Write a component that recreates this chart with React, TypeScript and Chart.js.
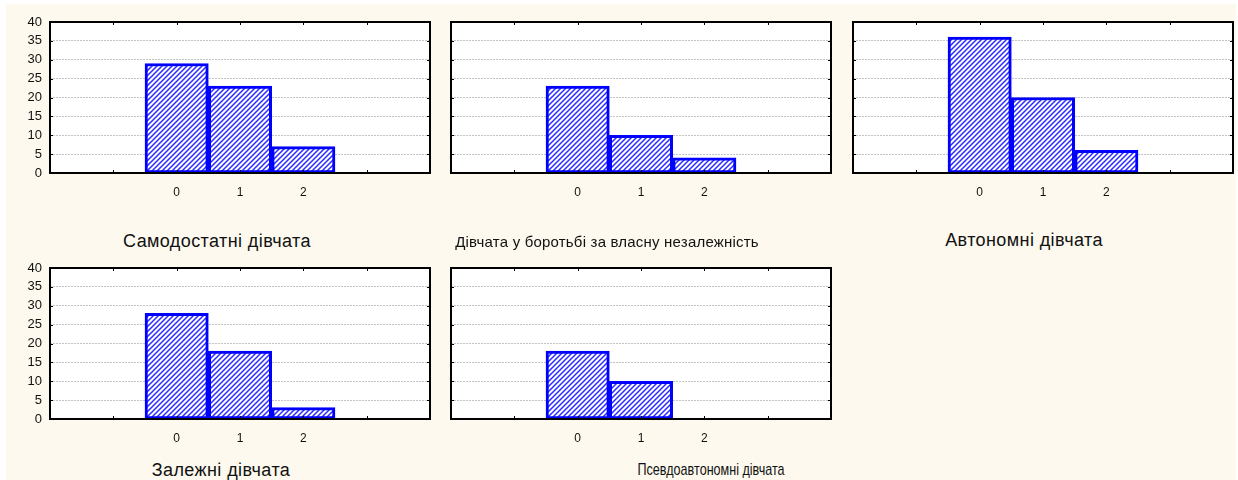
import React, { useEffect, useRef } from "react";
import { Chart, registerables } from "chart.js";

Chart.register(...registerables);

// ---------- data ----------
const categories = [0, 1, 2];
const xTickLabels = ["0", "1", "2"];
const yTicks = [0, 5, 10, 15, 20, 25, 30, 35, 40];

const selfSufficient = [29, 23, 7];
const strugglingGirls = [23, 10, 4];
const autonomousGirls = [36, 20, 6];
const dependentGirls = [28, 18, 3];
const pseudoAutonomous = [18, 10, 0];

const panelTitles = [
  "Самодостатні дівчата",
  "Дівчата у боротьбі за власну незалежність",
  "Автономні дівчата",
  "Залежні дівчата",
  "Псевдоавтономні дівчата",
];

const panelSeries = [selfSufficient, strugglingGirls, autonomousGirls, dependentGirls, pseudoAutonomous];

// ---------- layout ----------
const FONT = "'Liberation Sans', Arial, sans-serif";
const PLOT_W = 380;
const PLOT_H = 151;
const ML = 44;
const MT = 10;
const MR = 6;
const MB = 30;

const panelLayout = [
  { left: 50, top: 22, showY: true },
  { left: 451, top: 22, showY: false },
  { left: 853, top: 22, showY: false },
  { left: 50, top: 268, showY: true },
  { left: 451, top: 268, showY: false },
];

const titleLayout = [
  { cx: 217, cy: 241, size: 18, spacing: 0.4, scaleX: 1 },
  { cx: 607, cy: 242, size: 15, spacing: 0.2, scaleX: 1 },
  { cx: 1024, cy: 240, size: 18, spacing: 0.4, scaleX: 1 },
  { cx: 221, cy: 470, size: 18, spacing: 0.4, scaleX: 1 },
  { cx: 711, cy: 470, size: 17, spacing: 0, scaleX: 0.74 },
];

function makeHatch(): CanvasPattern | string {
  const tile = document.createElement("canvas");
  const s = 5;
  tile.width = s;
  tile.height = s;
  const c = tile.getContext("2d");
  if (!c) return "#8888ff";
  c.fillStyle = "#ffffff";
  c.fillRect(0, 0, s, s);
  c.strokeStyle = "#2a2aff";
  c.lineWidth = 1.5;
  c.beginPath();
  c.moveTo(-1, s + 1);
  c.lineTo(s + 1, -1);
  c.moveTo(-1, 1);
  c.lineTo(1, -1);
  c.moveTo(s - 1, s + 1);
  c.lineTo(s + 1, s - 1);
  c.stroke();
  const p = c.createPattern(tile, "repeat");
  return p || "#8888ff";
}

const framePlugin = {
  id: "frame",
  beforeDraw(chart: any) {
    const { ctx, chartArea: a } = chart;
    ctx.save();
    ctx.fillStyle = "#ffffff";
    ctx.fillRect(a.left, a.top, a.right - a.left, a.bottom - a.top);
    ctx.restore();
  },
  afterDraw(chart: any) {
    const { ctx, chartArea: a, scales } = chart;
    ctx.save();
    ctx.strokeStyle = "#000000";
    ctx.lineWidth = 1;
    for (const v of yTicks) {
      if (v === 0 || v === 40) continue;
      const py = Math.round(scales.y.getPixelForValue(v)) + 0.5;
      ctx.beginPath();
      ctx.moveTo(a.left, py);
      ctx.lineTo(a.left + 3, py);
      ctx.moveTo(a.right - 3, py);
      ctx.lineTo(a.right, py);
      ctx.stroke();
    }
    for (let v = -1; v <= 3; v++) {
      const px = Math.round(scales.x.getPixelForValue(v)) + 0.5;
      ctx.beginPath();
      ctx.moveTo(px, a.top);
      ctx.lineTo(px, a.top + 3);
      ctx.moveTo(px, a.bottom - 3);
      ctx.lineTo(px, a.bottom);
      ctx.stroke();
    }
    ctx.lineWidth = 2;
    ctx.strokeRect(a.left, a.top, a.right - a.left, a.bottom - a.top);
    ctx.restore();
  },
};

function Panel({ values, showY, left, top }: { values: number[]; showY: boolean; left: number; top: number }) {
  const ref = useRef<HTMLCanvasElement | null>(null);
  useEffect(() => {
    if (!ref.current) return;
    const hatch = makeHatch();
    const chart = new Chart(ref.current, {
      type: "bar",
      data: {
        datasets: [
          {
            data: categories.map((c, i) => ({ x: c, y: values[i] })),
            backgroundColor: hatch as any,
            borderColor: "#0000ff",
            borderWidth: 3,
            borderSkipped: false,
            barPercentage: 1,
            categoryPercentage: 1,
          },
        ],
      },
      options: {
        animation: false,
        responsive: false,
        maintainAspectRatio: false,
        events: [],
        layout: { padding: { top: MT, right: MR, left: 0, bottom: 0 } },
        plugins: { legend: { display: false }, tooltip: { enabled: false }, title: { display: false } },
        scales: {
          x: {
            type: "linear",
            min: -2,
            max: 4,
            offset: false,
            grid: { display: false, drawTicks: false },
            border: { display: false },
            ticks: {
              stepSize: 1,
              autoSkip: false,
              maxRotation: 0,
              padding: 12,
              color: "#111111",
              font: { family: FONT, size: 12 },
              callback: (v: any) => (xTickLabels.includes(String(v)) ? String(v) : ""),
            },
            afterFit: (s: any) => {
              s.height = MB;
              s.paddingLeft = 0;
              s.paddingRight = 0;
            },
          },
          y: {
            min: 0,
            max: 40,
            grid: {
              drawTicks: false,
              color: "#c4c4c4",
              lineWidth: (ctx: any) => (ctx.tick && (ctx.tick.value === 0 || ctx.tick.value === 40) ? 0 : 1),
            },
            border: { display: false, dash: [2, 1] },
            ticks: {
              display: showY,
              stepSize: 5,
              padding: 8,
              color: "#111111",
              font: { family: FONT, size: 13 },
            },
            afterFit: (s: any) => {
              s.width = ML;
              s.paddingTop = 0;
              s.paddingBottom = 0;
            },
          },
        },
      } as any,
      plugins: [framePlugin],
    });
    return () => chart.destroy();
  }, [values, showY]);

  const w = PLOT_W + ML + MR;
  const h = PLOT_H + MT + MB;
  return (
    <canvas
      ref={ref}
      width={w}
      height={h}
      style={{ position: "absolute", left: left - ML, top: top - MT, width: w, height: h }}
    />
  );
}

export default function App() {
  return (
    <div style={{ position: "absolute", left: 0, top: 0, width: 1238, height: 480, background: "#ffffff", overflow: "hidden" }}>
      <div style={{ position: "absolute", left: 6, top: 4, right: 2, bottom: 0, background: "#fdf9ee" }} />
      {panelLayout.map((p, i) => (
        <Panel key={i} values={panelSeries[i]} showY={p.showY} left={p.left} top={p.top} />
      ))}
      {titleLayout.map((t, i) => (
        <div
          key={"t" + i}
          style={{
            position: "absolute",
            left: t.cx,
            top: t.cy,
            transform: `translate(-50%, -50%) scaleX(${t.scaleX})`,
            whiteSpace: "nowrap",
            fontFamily: FONT,
            fontSize: t.size,
            letterSpacing: t.spacing,
            lineHeight: "20px",
            color: "#111111",
          }}
        >
          {panelTitles[i]}
        </div>
      ))}
    </div>
  );
}
